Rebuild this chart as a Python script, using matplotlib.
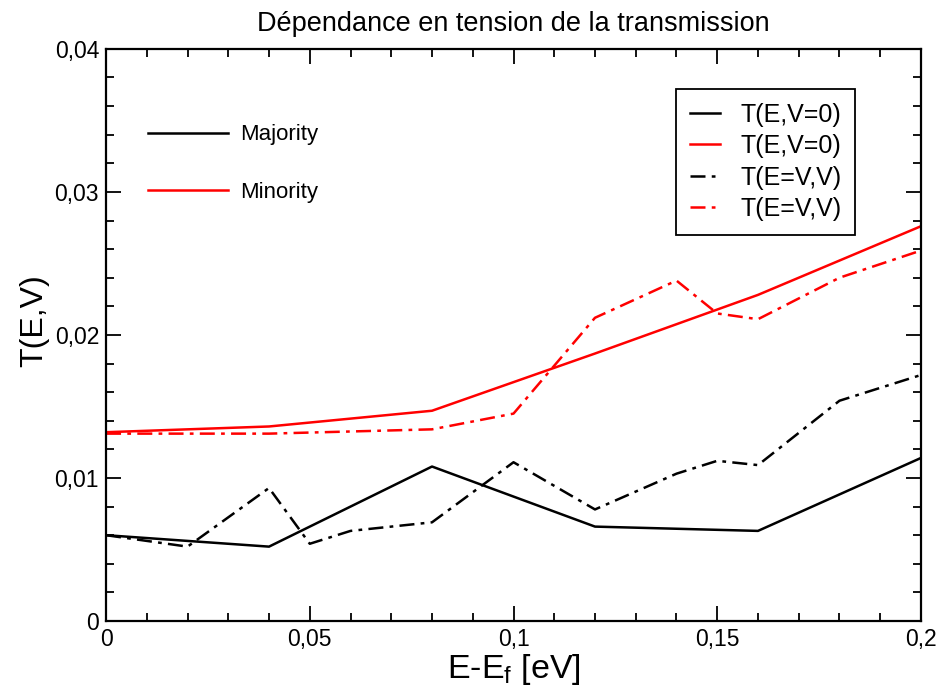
import matplotlib
matplotlib.use('Agg')
import matplotlib.pyplot as plt
from matplotlib.lines import Line2D
from matplotlib.ticker import MultipleLocator, FixedLocator

plt.rcParams['font.family'] = ['Liberation Sans', 'DejaVu Sans']
plt.rcParams['mathtext.fontset'] = 'custom'
plt.rcParams['mathtext.rm'] = 'Liberation Sans'
plt.rcParams['mathtext.it'] = 'Liberation Sans:italic'

# data
x_v0 = [0, 0.04, 0.08, 0.12, 0.16, 0.2]
maj_v0 = [0.0060, 0.0052, 0.0108, 0.0066, 0.0063, 0.0114]
min_v0 = [0.0132, 0.0136, 0.0147, 0.0187, 0.0228, 0.0276]

x_maj_ev = [0, 0.02, 0.04, 0.05, 0.06, 0.08, 0.1, 0.12, 0.14, 0.15, 0.16, 0.18, 0.2]
maj_ev = [0.0060, 0.0052, 0.0093, 0.0054, 0.0063, 0.0069, 0.0111, 0.0078,
          0.0103, 0.0112, 0.0109, 0.0154, 0.0172]

x_min_ev = [0, 0.04, 0.08, 0.1, 0.12, 0.14, 0.15, 0.16, 0.18, 0.2]
min_ev = [0.0131, 0.0131, 0.0134, 0.0145, 0.0212, 0.0238, 0.0215, 0.0211, 0.0240, 0.0259]

xticks = [0, 0.05, 0.1, 0.15, 0.2]
xtick_labels = ['0', '0,05', '0,1', '0,15', '0,2']
yticks = [0, 0.01, 0.02, 0.03, 0.04]
ytick_labels = ['0', '0,01', '0,02', '0,03', '0,04']

dashdot = (0, (6, 2.5, 1.5, 2.5))

fig = plt.figure(figsize=(9.41, 6.98), dpi=100)
ax = fig.add_axes([0.1127, 0.1103, 0.8660, 0.8197])

ax.plot(x_v0, maj_v0, color='black', lw=1.8, label='T(E,V=0)')
ax.plot(x_v0, min_v0, color='red', lw=1.8, label='T(E,V=0)')
ax.plot(x_maj_ev, maj_ev, color='black', lw=1.8, linestyle=dashdot, label='T(E=V,V)')
ax.plot(x_min_ev, min_ev, color='red', lw=1.8, linestyle=dashdot, label='T(E=V,V)')

ax.set_xlim(0, 0.2)
ax.set_ylim(0, 0.04)
ax.xaxis.set_major_locator(FixedLocator(xticks))
ax.set_xticklabels(xtick_labels)
ax.xaxis.set_minor_locator(MultipleLocator(0.01))
ax.yaxis.set_major_locator(FixedLocator(yticks))
ax.set_yticklabels(ytick_labels)
ax.yaxis.set_minor_locator(MultipleLocator(0.002))

ax.tick_params(which='both', direction='in', top=True, right=True, labelsize=16.5, width=1.3)
ax.tick_params(which='major', length=10.5, pad=5)
ax.tick_params(which='minor', length=5.5)
for s in ax.spines.values():
    s.set_linewidth(1.6)

ax.set_title('Dépendance en tension de la transmission', fontsize=19.5, pad=13)
ax.set_xlabel('E-E$_\\mathrm{f}$ [eV]', fontsize=24.5, labelpad=1)
ax.set_ylabel('T(E,V)', fontsize=23, labelpad=8)
ax.yaxis.set_label_coords(-0.07, 0.525)

leg1 = ax.legend(loc='upper left', bbox_to_anchor=(0.700, 0.930), borderaxespad=0,
                 fontsize=18, handlelength=1.2, handletextpad=0.8, labelspacing=0.3,
                 borderpad=0.55, fancybox=False, framealpha=1, edgecolor='black')
leg1.get_frame().set_linewidth(1.3)
ax.add_artist(leg1)

spin_handles = [Line2D([], [], color='black', lw=1.8),
                Line2D([], [], color='red', lw=1.8)]
ax.legend(spin_handles, ['Majority', 'Minority'], loc='upper left',
          bbox_to_anchor=(0.051, 0.868), borderaxespad=0, borderpad=0,
          fontsize=16, handlelength=3.6, handletextpad=0.55, labelspacing=1.65,
          frameon=False)

fig.savefig('out.png', dpi=100)
